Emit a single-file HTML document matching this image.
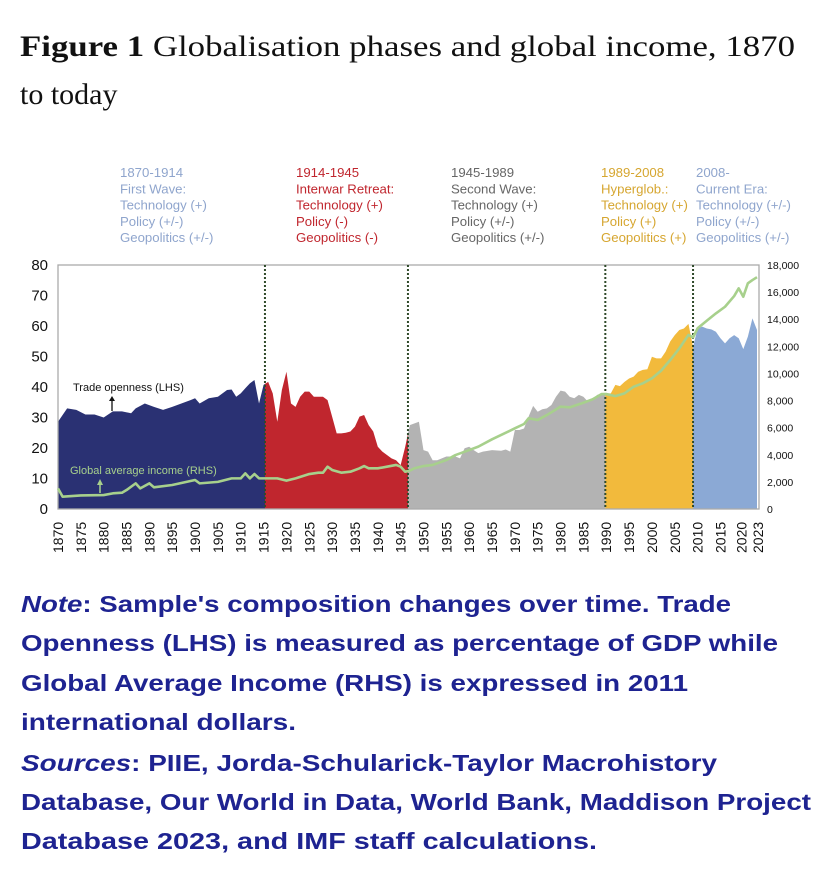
<!DOCTYPE html>
<html><head><meta charset="utf-8"><style>
html,body{margin:0;padding:0;background:#fff;width:828px;height:872px;overflow:hidden}
svg{display:block}
</style></head><body>
<svg id="fig" width="828" height="872" viewBox="0 0 828 872" xmlns="http://www.w3.org/2000/svg">
<g font-family="Liberation Serif, serif" font-size="30" fill="#111">
<text x="20" y="56" textLength="775" lengthAdjust="spacingAndGlyphs"><tspan font-weight="bold">Figure 1</tspan> Globalisation phases and global income, 1870</text>
<text x="20" y="104">to today</text>
</g>
<g id="headers" font-family="Liberation Sans, sans-serif" font-size="13.2"></g>
<g id="chart"></g>
<g font-family="Liberation Sans, sans-serif" font-weight="bold" font-size="23" fill="#1e2391">
<text x="21" y="612" textLength="710" lengthAdjust="spacingAndGlyphs"><tspan font-style="italic">Note</tspan>: Sample's composition changes over time. Trade</text>
<text x="21" y="651" textLength="757" lengthAdjust="spacingAndGlyphs">Openness (LHS) is measured as percentage of GDP while</text>
<text x="21" y="691" textLength="667" lengthAdjust="spacingAndGlyphs">Global Average Income (RHS) is expressed in 2011</text>
<text x="21" y="730" textLength="275" lengthAdjust="spacingAndGlyphs">international dollars.</text>
<text x="21" y="771" textLength="696" lengthAdjust="spacingAndGlyphs"><tspan font-style="italic">Sources</tspan>: PIIE, Jorda-Schularick-Taylor Macrohistory</text>
<text x="21" y="810" textLength="790" lengthAdjust="spacingAndGlyphs">Database, Our World in Data, World Bank, Maddison Project</text>
<text x="21" y="849" textLength="576" lengthAdjust="spacingAndGlyphs">Database 2023, and IMF staff calculations.</text>
</g>
</svg>
<script>
const tradeYears=[1870,1872,1874,1876,1878,1880,1882,1884,1886,1887,1889,1891,1893,1895,1897,1899,1900,1901,1903,1905,1907,1908,1909,1910,1911,1912,1913,1914,1915,1916,1917,1918,1919,1920,1921,1922,1923,1924,1925,1926,1927,1928,1929,1930,1931,1932,1933,1934,1935,1936,1937,1938,1939,1940,1941,1942,1943,1944,1945,1946,1947,1949,1950,1951,1952,1953,1955,1957,1958,1959,1960,1961,1962,1963,1965,1967,1968,1969,1970,1971,1972,1973,1974,1975,1976,1977,1978,1979,1980,1981,1982,1983,1984,1985,1986,1987,1988,1989,1990,1991,1992,1993,1994,1995,1996,1997,1998,1999,2000,2001,2002,2003,2004,2005,2006,2007,2008,2009,2010,2011,2012,2013,2014,2015,2016,2017,2018,2019,2020,2021,2022,2023];
const tradeValues=[28.6,33,32.5,31,31,30,32,32,31.4,33,34.6,33.5,32.5,33.5,34.6,35.7,36.3,34.6,36.3,36.8,39,39.2,36.8,37.9,39.6,41.2,42.3,34.6,40.7,41.7,37.9,28.6,39,45,34.6,33.5,36.8,38.5,38.5,36.8,36.8,36.8,35.7,30.3,24.8,24.8,25,25.4,27,30.3,30.8,27.5,25.4,20.4,18.8,17.7,16.6,16,14.4,20.4,27.5,28.6,19.3,18.8,16,16,17.2,17.2,16.6,19.9,20.4,19.3,18.3,18.8,19.3,19.1,19.5,18.8,25.9,25.9,26.4,30.3,33.8,31.9,32.7,33,34.1,36.8,38.8,38.5,36.8,36.3,37.4,36.8,35.2,35.7,37.4,37.7,37.9,37.9,40.7,40.3,41.7,42.8,43.4,45,45.6,45.8,49.9,49.4,49.4,51.6,54.9,57,58.7,59.2,60.7,53.2,59.2,59.8,59.2,58.9,58.1,56,54.3,56,57,56,52.4,56.5,62.5,58.7];
const incomeYears=[1870,1871,1875,1880,1882,1884,1885,1887,1888,1890,1891,1895,1900,1901,1905,1908,1910,1911,1912,1913,1914,1915,1918,1920,1922,1925,1927,1928,1929,1930,1932,1934,1936,1937,1938,1940,1942,1944,1945,1946,1947,1948,1950,1952,1955,1957,1960,1962,1965,1967,1970,1972,1973,1975,1977,1980,1982,1985,1987,1989,1990,1992,1994,1996,1998,2000,2002,2004,2006,2008,2009,2010,2012,2014,2016,2018,2019,2020,2021,2022,2023];
const incomeValues=[1525,910,1000,1030,1155,1200,1400,1890,1520,1890,1600,1770,2140,1890,2000,2260,2260,2630,2260,2580,2260,2260,2260,2090,2260,2580,2680,2680,3120,2880,2680,2750,3000,3170,3000,3000,3120,3250,3120,2750,2830,3000,3170,3250,3610,3980,4350,4600,5140,5460,5950,6270,6690,6570,6930,7550,7500,7840,8090,8480,8480,8330,8530,9020,9270,9640,10200,10990,11850,12840,12660,13330,13890,14430,14920,15710,16280,15660,16650,16890,17100];
const phaseBounds=[1870,1915.3,1946.6,1989.8,2009,2023.5];
const phaseColors=["#2a3173","#c0262e","#b3b3b3","#f2ba3c","#8ba9d5"];
const leftTicks=[0,10,20,30,40,50,60,70,80];
const rightTicks=[0,2000,4000,6000,8000,10000,12000,14000,16000,18000];
const yearTicks=[1870,1875,1880,1885,1890,1895,1900,1905,1910,1915,1920,1925,1930,1935,1940,1945,1950,1955,1960,1965,1970,1975,1980,1985,1990,1995,2000,2005,2010,2015,2020,2023];
const headerCols=[["1870-1914","First Wave:","Technology (+)","Policy (+/-)","Geopolitics (+/-)"],["1914-1945","Interwar Retreat:","Technology (+)","Policy (-)","Geopolitics (-)"],["1945-1989","Second Wave:","Technology (+)","Policy (+/-)","Geopolitics (+/-)"],["1989-2008","Hyperglob.:","Technology (+)","Policy (+)","Geopolitics (+)"],["2008-","Current Era:","Technology (+/-)","Policy (+/-)","Geopolitics (+/-)"]];
const headerColors=["#8fa5cd","#c0262e","#666","#d6a630","#8fa5cd"];

const NS="http://www.w3.org/2000/svg";
const X0=58,X1=759,T=265,B=509;
const xs=y=>X0+(y-1870)*(X1-2-X0)/153;
const yl=v=>B-v*(B-T)/80;
const yr=v=>B-v*(B-T)/18000;
function mk(tag,attrs,parent){const e=document.createElementNS(NS,tag);for(const k in attrs)e.setAttribute(k,attrs[k]);parent.appendChild(e);return e;}
const chart=document.getElementById('chart');
const headers=document.getElementById('headers');
const hx=[120,296,451,601,696];
headerCols.forEach((col,i)=>{col.forEach((t,j)=>{const e=mk('text',{x:hx[i],y:177+j*16.3,fill:headerColors[i]},headers);e.textContent=t;

});});
const defs=mk('defs',{},chart);
let d=`M${xs(tradeYears[0])},${B}`;tradeYears.forEach((y,i)=>{d+=` L${xs(y)},${yl(tradeValues[i])}`;});d+=` L${xs(tradeYears[tradeYears.length-1])},${B} Z`;
phaseColors.forEach((c,i)=>{const cp=mk('clipPath',{id:'cp'+i},defs);mk('rect',{x:xs(phaseBounds[i]),y:T,width:xs(phaseBounds[i+1])-xs(phaseBounds[i]),height:B-T},cp);
const p=mk('path',{d:d,fill:c,'clip-path':`url(#cp${i})`},chart);

});
const fr=mk('rect',{x:X0,y:T,width:X1-X0,height:B-T,fill:'none',stroke:'#aaa','stroke-width':1.3},chart);


phaseBounds.slice(1,5).forEach(b=>{const l=mk('line',{x1:xs(b),x2:xs(b),y1:T,y2:B,stroke:'#2f4a2a','stroke-width':2,'stroke-dasharray':'2,2'},chart);

});
let pts=incomeYears.map((y,i)=>`${xs(y)},${yr(incomeValues[i])}`).join(' ');
const il=mk('polyline',{points:pts,fill:'none',stroke:'#a7d08c','stroke-width':2.6,'stroke-linejoin':'round'},chart);


leftTicks.forEach(v=>{const t=mk('text',{x:48,y:yl(v)+5,'text-anchor':'end','font-family':'Liberation Sans, sans-serif','font-size':15,fill:'#111'},chart);t.textContent=v;

});
rightTicks.forEach(v=>{const t=mk('text',{x:767,y:yr(v)+4,'font-family':'Liberation Sans, sans-serif','font-size':10.5,fill:'#111'},chart);t.textContent=v.toLocaleString('en-US');

});
yearTicks.forEach(v=>{const x=xs(v)+(v===2023?6:(v===2020?3:5));const t=mk('text',{x:0,y:0,transform:`translate(${x},553) rotate(-90)`,'font-family':'Liberation Sans, sans-serif','font-size':14,fill:'#111'},chart);t.textContent=v;

});
const a1=mk('text',{x:73,y:391,'font-family':'Liberation Sans, sans-serif','font-size':11,fill:'#111'},chart);a1.textContent='Trade openness (LHS)';


mk('line',{x1:112,x2:112,y1:411,y2:400,stroke:'#111','stroke-width':1.3},chart);
mk('path',{d:'M109,401 L112,396 L115,401 Z',fill:'#111'},chart);
const a2=mk('text',{x:70,y:474,'font-family':'Liberation Sans, sans-serif','font-size':11,fill:'#a7d08c'},chart);a2.textContent='Global average income (RHS)';


mk('line',{x1:100,x2:100,y1:493,y2:484,stroke:'#a7d08c','stroke-width':1.5},chart);
mk('path',{d:'M97,485 L100,479 L103,485 Z',fill:'#a7d08c'},chart);
</script>
</body></html>
